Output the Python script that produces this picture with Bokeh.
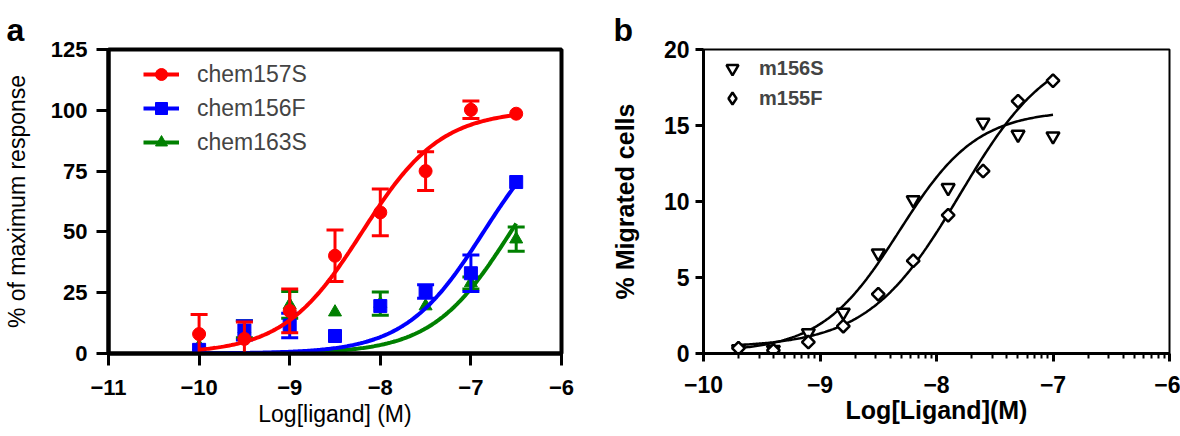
import numpy as np
from bokeh.plotting import figure
from bokeh.models import Range1d, FixedTicker, Legend, LegendItem
from bokeh.layouts import row
from bokeh.embed import file_html
from bokeh.resources import INLINE

FONT = "Liberation Sans"

# ---------------- Panel a data ----------------
log_conc_a = [-10.0, -9.5, -9.0, -8.5, -8.0, -7.5, -7.0, -6.5]
chem157S = [8.0, 6.0, 17.5, 40.2, 58.0, 75.0, 100.2, 98.6]
chem157S_err = [8.0, 7.0, 9.0, 10.6, 9.6, 8.0, 3.6, 0.0]
chem156F = [1.5, 9.5, 11.5, 7.2, 19.5, 25.5, 33.0, 70.5]
chem156F_err = [0.0, 4.0, 5.0, 0.0, 0.0, 2.8, 7.5, 0.0]
chem163S = [3.0, 10.0, 20.0, 17.0, 20.5, 19.5, 29.0, 47.0]
chem163S_err = [0.0, 3.5, 5.5, 0.0, 4.8, 0.0, 2.5, 5.0]

series_names_a = ["chem157S", "chem156F", "chem163S"]
series_colors_a = ["#FF0000", "#0000FF", "#008000"]
series_markers_a = ["circle", "square", "triangle"]

# fitted 4-parameter logistic curves (bottom, top, logEC50, hill)
fit_bottom_a = [0.0, 0.0, 0.0]
fit_top_a = [100.0, 100.0, 100.0]
fit_logec50_a = [-8.2, -6.86, -6.56]
fit_hill_a = [1.0, 1.0, 1.0]
fit_range_a = [-10.0, -6.5]

x_ticks_a = [-11, -10, -9, -8, -7, -6]
y_ticks_a = [0, 25, 50, 75, 100, 125]

# ---------------- Panel b data ----------------
log_conc_b = [-9.7, -9.4, -9.1, -8.8, -8.5, -8.2, -7.9, -7.6, -7.3, -7.0]
m156S = [0.3, 0.25, 1.35, 2.7, 6.6, 10.1, 10.9, 15.2, 14.4, 14.3]
m155F = [0.35, 0.2, 0.75, 1.8, 3.9, 6.1, 9.1, 12.0, 16.6, 17.95]

fit_bottom_b = [0.1, 0.4]
fit_top_b = [16.0, 20.5]
fit_logec50_b = [-8.32, -7.8]
fit_hill_b = [1.3, 1.1]
fit_range_b = [-9.7, -7.0]

x_ticks_b = [-10, -9, -8, -7, -6]
y_ticks_b = [0, 5, 10, 15, 20]


def logistic(x, bottom, top, logec, hill):
    return bottom + (top - bottom) / (1.0 + 10.0 ** ((logec - x) * hill))


def style_title(p, letter, offset):
    p.title.text = letter
    p.title.align = "left"
    p.title.vertical_align = "top"
    p.title.offset = offset
    p.title.standoff = 0
    p.title.text_font = FONT
    p.title.text_font_style = "bold"
    p.title.text_font_size = "32px"
    p.title.text_color = "black"


# ================= Figure a =================
pa = figure(width=600, height=430, x_range=Range1d(-11, -6), y_range=Range1d(0, 125),
            output_backend="svg", toolbar_location=None,
            min_border_left=103, min_border_right=39, min_border_top=49, min_border_bottom=77)
pa.grid.visible = False
pa.outline_line_color = "black"
pa.outline_line_width = 4
pa.background_fill_color = "white"
pa.border_fill_color = "white"
style_title(pa, "a", -102)

for ax in (pa.xaxis[0], pa.yaxis[0]):
    ax.axis_line_width = 4
    ax.axis_line_color = "black"
    ax.major_tick_line_width = 3
    ax.major_tick_out = 12
    ax.major_tick_in = 0
    ax.minor_tick_line_color = None
    ax.major_label_text_font = FONT
    ax.major_label_text_font_style = "bold"
    ax.major_label_text_font_size = "22px"
    ax.major_label_text_color = "black"
    ax.axis_label_text_font = FONT
    ax.axis_label_text_font_style = "normal"
    ax.axis_label_text_font_size = "23px"
    ax.axis_label_text_color = "black"
pa.xaxis.ticker = FixedTicker(ticks=x_ticks_a)
pa.yaxis.ticker = FixedTicker(ticks=y_ticks_a)
pa.xaxis.major_label_standoff = 14
pa.yaxis.major_label_standoff = 9
pa.xaxis.axis_label = "Log[ligand] (M)"
pa.xaxis.axis_label_standoff = 3
pa.yaxis.axis_label = "% of maximum response"
pa.yaxis.axis_label_standoff = 18

xs_fit_a = np.linspace(fit_range_a[0], fit_range_a[1], 200)
ys_a = [chem157S, chem156F, chem163S]
errs_a = [chem157S_err, chem156F_err, chem163S_err]
rends = {}
for i in [2, 1, 0]:
    col = series_colors_a[i]
    xe = [x for x, e in zip(log_conc_a, errs_a[i]) if e > 0]
    ye = [y for y, e in zip(ys_a[i], errs_a[i]) if e > 0]
    ee = [e for e in errs_a[i] if e > 0]
    top = [y + e for y, e in zip(ye, ee)]
    bot = [max(y - e, 0) for y, e in zip(ye, ee)]
    pa.segment(x0=xe, y0=bot, x1=xe, y1=top, line_color=col, line_width=3)
    pa.scatter(x=xe, y=top, marker="dash", size=17, line_color=col, line_width=3)
    pa.scatter(x=xe, y=bot, marker="dash", size=17, line_color=col, line_width=3)
    yfit = logistic(xs_fit_a, fit_bottom_a[i], fit_top_a[i], fit_logec50_a[i], fit_hill_a[i])
    lr = pa.line(x=xs_fit_a, y=yfit, line_color=col, line_width=4)
    sr = pa.scatter(x=log_conc_a, y=ys_a[i], marker=series_markers_a[i], size=13,
                    fill_color=col, line_color=col)
    rends[i] = (lr, sr)
legend_items_a = [LegendItem(label=series_names_a[i], renderers=list(rends[i])) for i in range(3)]

leg_a = Legend(items=legend_items_a, location=(35, 196), margin=0, padding=0, spacing=4,
               glyph_width=36, glyph_height=30, label_height=30, label_standoff=18,
               label_text_font=FONT, label_text_font_size="23px",
               border_line_color=None, background_fill_alpha=0)
pa.add_layout(leg_a, "center")

# ================= Figure b =================
pb = figure(width=580, height=430, x_range=Range1d(-10, -6), y_range=Range1d(0, 20),
            output_backend="svg", toolbar_location=None,
            min_border_left=103, min_border_right=11, min_border_top=44, min_border_bottom=76)
pb.grid.visible = False
pb.outline_line_color = "black"
pb.outline_line_width = 2
pb.background_fill_color = "white"
pb.border_fill_color = "white"
style_title(pb, "b", -90)

minor_b = []
for d in range(-10, -6):
    for k in range(2, 10):
        minor_b.append(d + float(np.log10(k)))

for ax in (pb.xaxis[0], pb.yaxis[0]):
    ax.axis_line_width = 3
    ax.axis_line_color = "black"
    ax.major_tick_line_width = 3
    ax.major_tick_out = 8
    ax.major_tick_in = 0
    ax.minor_tick_line_width = 2
    ax.minor_tick_out = 5
    ax.minor_tick_in = 0
    ax.major_label_text_font = FONT
    ax.major_label_text_font_style = "bold"
    ax.major_label_text_font_size = "23px"
    ax.major_label_text_color = "black"
    ax.axis_label_text_font = FONT
    ax.axis_label_text_font_style = "bold"
    ax.axis_label_text_font_size = "25px"
    ax.axis_label_text_color = "black"
pb.xaxis.ticker = FixedTicker(ticks=x_ticks_b, minor_ticks=minor_b)
pb.yaxis.ticker = FixedTicker(ticks=y_ticks_b)
pb.yaxis.minor_tick_line_color = None
pb.xaxis.major_label_standoff = 14
pb.yaxis.major_label_standoff = 6
pb.xaxis.axis_label = "Log[Ligand](M)"
pb.xaxis.axis_label_standoff = 0
pb.yaxis.axis_label = "% Migrated cells"
pb.yaxis.axis_label_standoff = 22

xs_fit_b = np.linspace(fit_range_b[0], fit_range_b[1], 200)
for i in range(2):
    yfit = logistic(xs_fit_b, fit_bottom_b[i], fit_top_b[i], fit_logec50_b[i], fit_hill_b[i])
    pb.line(x=xs_fit_b, y=yfit, line_color="black", line_width=2.5)

# diamond-shaped key glyph (drawn underneath, hidden by the points drawn on top)
r_dia_key = pb.scatter(x=log_conc_b, y=m155F, marker="diamond", size=12,
                       fill_color="white", line_color="black", line_width=2.5)
r_tri = pb.scatter(x=log_conc_b, y=m156S, marker="inverted_triangle", size=13,
                   fill_color="white", line_color="black", line_width=2.5)
r_dia = pb.scatter(x=log_conc_b, y=m155F, marker="square", angle=np.pi / 4, size=9,
                   fill_color="white", line_color="black", line_width=2.5)

leg_b = Legend(items=[LegendItem(label="m156S", renderers=[r_tri]),
                      LegendItem(label="m155F", renderers=[r_dia_key])],
               location=(14, 240), margin=0, padding=0, spacing=0,
               glyph_width=30, glyph_height=30, label_height=30, label_standoff=12,
               label_text_font=FONT, label_text_font_style="bold", label_text_font_size="20px",
               border_line_color=None, background_fill_alpha=0)
pb.add_layout(leg_b, "center")

layout = row(pa, pb)
open("out.html", "w").write(file_html(layout, INLINE))
